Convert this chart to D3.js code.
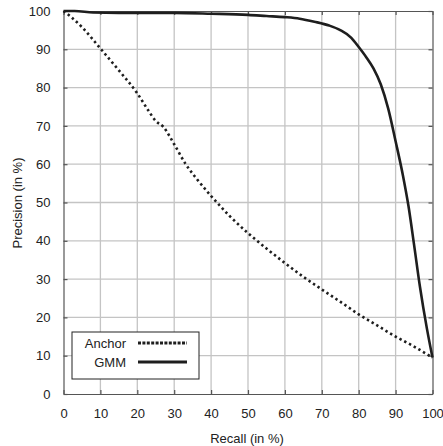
<!DOCTYPE html>
<html>
<head>
<meta charset="utf-8">
<script src="https://cdn.jsdelivr.net/npm/d3@7"></script>
<style>
  body { margin: 0; background: #fff; }
  text { font-family: "Liberation Sans", Arial, sans-serif; fill: #222; }
  .grid line { stroke: #c4c4c4; stroke-width: 1.3; }
  .axis path, .axis line { stroke: #555; stroke-width: 1.2; }
</style>
</head>
<body>
<div id="chart"></div>
<script>
const ancho = 443;
const alto = 446;

// valores
const ticks = [0, 10, 20, 30, 40, 50, 60, 70, 80, 90, 100];
const anchorRecall = [0, 2, 5, 10, 15, 20, 23, 25, 27, 30, 33, 36, 40, 45, 50, 55, 60, 65, 70, 75, 80, 85, 90, 95, 100];
const anchorPrec   = [100, 98.5, 95.8, 90.2, 84.5, 78.5, 74, 71.3, 69.8, 65.2, 60.2, 56.3, 51.7, 46.5, 42, 38, 34.2, 30.6, 27.3, 24.1, 20.8, 17.9, 15, 12.4, 9.5];
const gmmRecall = [0, 3, 8, 15, 30, 40, 50, 55, 60, 64, 68, 72, 75, 78, 80, 82, 84, 86, 88, 90, 92, 93.5, 95, 96.6, 98.5, 100];
const gmmPrec   = [100, 100, 99.6, 99.5, 99.5, 99.3, 99, 98.7, 98.4, 98, 97.2, 96.2, 95, 93, 90.6, 88, 85, 80.8, 74.5, 66, 57, 49, 39, 28, 17, 9.5];
const series = [
  { name: "Anchor", x: anchorRecall, y: anchorPrec, dash: "2.4,3", width: 2.6 },
  { name: "GMM", x: gmmRecall, y: gmmPrec, dash: null, width: 2.6 }
];

const izq = 63.5, der = 432.5, arriba = 11, abajo = 394;
const x = d3.scaleLinear().domain([0, 100]).range([izq, der]);
const y = d3.scaleLinear().domain([0, 100]).range([abajo, arriba]);

const svg = d3.select("#chart").append("svg")
  .attr("width", ancho)
  .attr("height", alto);

// rejilla
const grid = svg.append("g").attr("class", "grid");
grid.selectAll(".gx").data(ticks.slice(1, -1)).enter().append("line")
  .attr("x1", d => x(d)).attr("x2", d => x(d))
  .attr("y1", arriba).attr("y2", abajo);
grid.selectAll(".gy").data(ticks.slice(1, -1)).enter().append("line")
  .attr("y1", d => y(d)).attr("y2", d => y(d))
  .attr("x1", izq).attr("x2", der);

// ejes con ticks hacia dentro
svg.append("g").attr("class", "axis")
  .attr("transform", `translate(0,${abajo})`)
  .call(d3.axisBottom(x).tickValues(ticks).tickSize(-4).tickSizeOuter(0).tickPadding(14.8))
  .call(g => g.selectAll("text").attr("font-size", 13).style("font-family", "Liberation Sans, Arial, sans-serif"));
svg.append("g").attr("class", "axis")
  .attr("transform", `translate(${izq},0)`)
  .call(d3.axisLeft(y).tickValues(ticks).tickSize(-4).tickSizeOuter(0).tickPadding(13))
  .call(g => g.selectAll("text").attr("font-size", 13).style("font-family", "Liberation Sans, Arial, sans-serif"));
svg.append("g").attr("class", "axis")
  .attr("transform", `translate(0,${arriba})`)
  .call(d3.axisTop(x).tickValues(ticks).tickSize(-4).tickSizeOuter(0).tickFormat(""));
svg.append("g").attr("class", "axis")
  .attr("transform", `translate(${der},0)`)
  .call(d3.axisRight(y).tickValues(ticks).tickSize(-4).tickSizeOuter(0).tickFormat(""));

// curvas
const linea = d3.line().x(d => x(d[0])).y(d => y(d[1])).curve(d3.curveMonotoneX);
series.forEach(s => {
  svg.append("path")
    .attr("d", linea(s.x.map((v, i) => [v, s.y[i]])))
    .attr("fill", "none")
    .attr("stroke", "#1e1e1e")
    .attr("stroke-width", s.width)
    .attr("stroke-dasharray", s.dash);
});

// titulos
svg.append("text")
  .attr("x", 247).attr("y", 443)
  .attr("text-anchor", "middle")
  .attr("font-size", 13)
  .text("Recall (in %)");
svg.append("text")
  .attr("transform", "translate(22,203) rotate(-90)")
  .attr("text-anchor", "middle")
  .attr("font-size", 13)
  .text("Precision (in %)");

// leyenda
const ley = svg.append("g");
ley.append("rect")
  .attr("x", 72).attr("y", 332).attr("width", 127).attr("height", 47)
  .attr("fill", "#fff").attr("stroke", "#222").attr("stroke-width", 1);
series.forEach((s, i) => {
  const yy = 343 + i * 19;
  ley.append("text")
    .attr("x", 126).attr("y", yy + 5)
    .attr("text-anchor", "end")
    .attr("font-size", 13)
    .text(s.name);
  ley.append("line")
    .attr("x1", 138).attr("x2", 187).attr("y1", yy).attr("y2", yy)
    .attr("stroke", "#1e1e1e")
    .attr("stroke-width", 2.8)
    .attr("stroke-dasharray", s.dash ? "3,1.4" : null);
});
</script>
</body>
</html>
